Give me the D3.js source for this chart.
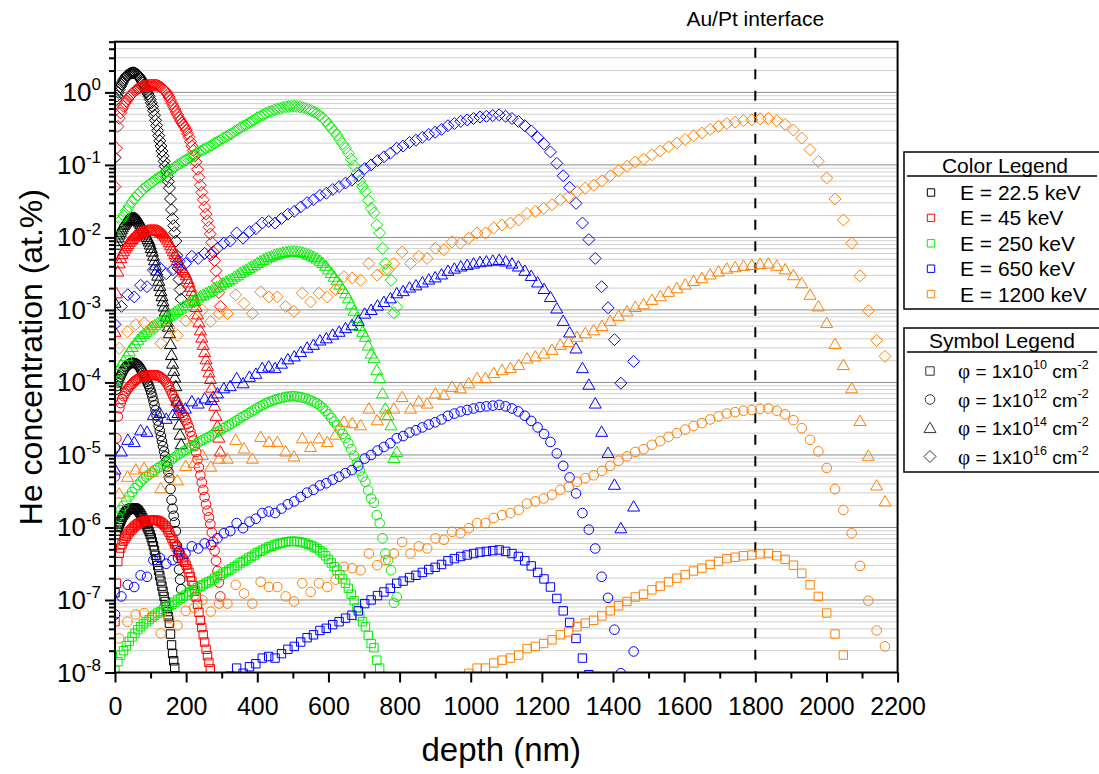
<!DOCTYPE html>
<html><head><meta charset="utf-8">
<script src="https://cdn.jsdelivr.net/npm/d3@7"></script>
<style>body{margin:0;background:#fff} text{font-family:Arial,"Liberation Sans",sans-serif;fill:#000}</style>
</head><body><svg id="c" width="1099" height="774"></svg>
<script>
// ---------- DATA ----------
const energies = ["22.5", "45", "250", "650", "1200"];
// He concentration (at.%) vs depth (nm) for a fluence of 1x10^16 cm^-2
const profile_22_5 = [[0,0.126],[3,0.794],[6,0.891],[9,1.00],[12,1.10],[15,1.20],[18,1.29],[21,1.38],[24,1.48],[27,1.55],[30,1.62],[33,1.70],[36,1.74],[39,1.78],[42,1.82],[45,1.84],[48,1.86],[51,1.86],[54,1.86],[57,1.84],[60,1.80],[63,1.76],[66,1.70],[69,1.62],[72,1.54],[75,1.45],[78,1.36],[81,1.27],[84,1.18],[87,1.10],[90,1.02],[93,0.95],[96,0.88],[99,0.80],[102,0.718],[105,0.640],[108,0.560],[111,0.485],[114,0.412],[117,0.350],[120,0.298],[123,0.253],[126,0.215],[129,0.182],[132,0.155],[135,0.132],[138,0.112],[141,0.0955],[144,0.0813],[147,0.0692],[150,0.0589],[153,0.0479],[156,0.0339],[159,0.0240],[162,0.0182],[165,0.0145],[168,0.0117],[171,0.00891],[174,0.00562],[177,0.00380],[180,0.00263],[183,0.00191],[186,0.00141]];
const profile_45 = [[0,0.0501],[4,0.170],[8,0.339],[12,0.440],[16,0.52],[20,0.589],[24,0.646],[28,0.708],[32,0.759],[36,0.813],[40,0.871],[44,0.912],[48,0.955],[52,1.00],[56,1.05],[60,1.08],[64,1.12],[68,1.15],[72,1.17],[76,1.20],[80,1.22],[84,1.23],[88,1.24],[92,1.245],[96,1.26],[100,1.26],[104,1.26],[108,1.26],[112,1.26],[116,1.26],[120,1.245],[124,1.22],[128,1.19],[132,1.15],[136,1.11],[140,1.06],[144,1.00],[148,0.933],[152,0.860],[156,0.780],[160,0.708],[164,0.646],[168,0.589],[172,0.537],[176,0.490],[180,0.447],[184,0.412],[188,0.380],[192,0.355],[196,0.331],[200,0.302],[204,0.269],[208,0.240],[212,0.209],[216,0.182],[220,0.158],[224,0.132],[228,0.110],[232,0.0871],[236,0.0676],[240,0.0525],[244,0.0417],[248,0.0331],[252,0.0263],[256,0.0209],[260,0.0170],[264,0.0138],[268,0.0112],[272,0.00851],[276,0.00631],[280,0.00479],[284,0.00347],[288,0.00251],[292,0.00174],[296,0.00112]];
const profile_250 = [[0,0.0107],[8,0.0141],[16,0.0174],[24,0.0200],[32,0.0234],[40,0.0269],[48,0.0309],[56,0.0347],[64,0.0389],[72,0.0427],[80,0.0468],[88,0.0501],[96,0.0537],[104,0.0575],[112,0.0617],[120,0.0661],[128,0.0692],[136,0.0741],[144,0.0794],[152,0.0832],[160,0.0871],[168,0.0933],[176,0.100],[184,0.105],[192,0.112],[200,0.117],[208,0.126],[216,0.132],[224,0.138],[232,0.148],[240,0.155],[248,0.162],[256,0.170],[264,0.178],[272,0.186],[280,0.200],[288,0.209],[296,0.219],[304,0.234],[312,0.245],[320,0.257],[328,0.269],[336,0.288],[344,0.302],[352,0.324],[360,0.339],[368,0.355],[376,0.380],[384,0.398],[392,0.417],[400,0.447],[408,0.468],[416,0.490],[424,0.513],[432,0.537],[440,0.550],[448,0.575],[456,0.589],[464,0.603],[472,0.617],[480,0.631],[488,0.638],[496,0.646],[504,0.646],[512,0.638],[520,0.631],[528,0.617],[536,0.603],[544,0.582],[552,0.562],[560,0.537],[568,0.513],[576,0.479],[584,0.447],[592,0.407],[600,0.363],[608,0.324],[616,0.288],[624,0.257],[632,0.224],[640,0.195],[648,0.170],[656,0.145],[664,0.120],[672,0.0977],[680,0.0776],[688,0.0603],[696,0.0501],[704,0.0427],[712,0.0324],[720,0.0251],[728,0.0219],[736,0.0148],[744,0.0115],[752,0.00708],[760,0.00437],[768,0.00355],[776,0.00257],[784,0.000912],[792,0.00110]];
const profile_650 = [[0,6.31e-4],[18,1.12e-3],[36,1.62e-3],[54,1.51e-3],[72,2.19e-3],[90,2.09e-3],[108,3.55e-3],[126,3.80e-3],[144,3.16e-3],[162,3.55e-3],[180,4.68e-3],[198,4.37e-3],[216,5.50e-3],[234,5.13e-3],[252,6.03e-3],[270,5.75e-3],[288,7.08e-3],[306,8.32e-3],[324,8.91e-3],[342,1.15e-2],[360,9.77e-3],[378,1.20e-2],[396,1.32e-2],[414,1.58e-2],[432,1.66e-2],[450,1.58e-2],[468,1.82e-2],[486,2.09e-2],[504,2.29e-2],[522,2.63e-2],[540,3.02e-2],[558,3.31e-2],[576,3.80e-2],[594,4.07e-2],[612,4.57e-2],[630,5.01e-2],[648,5.62e-2],[666,6.17e-2],[684,7.08e-2],[702,8.91e-2],[720,0.100],[738,0.115],[756,0.129],[774,0.145],[792,0.170],[810,0.182],[828,0.204],[846,0.219],[864,0.240],[882,0.263],[900,0.282],[918,0.309],[936,0.347],[954,0.372],[972,0.398],[990,0.417],[1008,0.437],[1026,0.457],[1044,0.468],[1062,0.479],[1080,0.490],[1098,0.468],[1116,0.437],[1134,0.398],[1152,0.347],[1170,0.295],[1188,0.240],[1206,0.195],[1224,0.151],[1242,0.105],[1260,0.0708],[1278,0.0490],[1296,0.0295],[1314,0.0158],[1332,0.00933],[1350,0.00513],[1368,0.00209],[1386,0.00107],[1404,3.89e-4],[1422,9.77e-5],[1458,1.95e-4]];
const profile_1200 = [[11.7,2.95e-4],[35.1,5.01e-4],[58.5,6.31e-4],[81.9,6.61e-4],[105.3,5.89e-4],[128.7,3.47e-4],[152.1,5.62e-4],[175.5,4.47e-4],[198.9,7.08e-4],[222.3,7.76e-4],[245.7,1.00e-3],[269.1,6.92e-4],[292.5,8.91e-4],[315.9,8.91e-4],[339.3,1.62e-3],[362.7,1.23e-3],[386.1,8.91e-4],[409.5,1.78e-3],[432.9,1.51e-3],[456.3,1.51e-3],[479.7,1.12e-3],[503.1,9.55e-4],[526.5,1.70e-3],[549.9,1.29e-3],[573.3,1.70e-3],[596.7,1.51e-3],[620.1,1.91e-3],[643.5,2.88e-3],[666.9,2.75e-3],[690.3,2.57e-3],[713.7,4.37e-3],[737.1,3.02e-3],[760.5,3.55e-3],[783.9,4.37e-3],[807.3,6.31e-3],[830.7,4.37e-3],[854.1,5.50e-3],[877.5,5.13e-3],[900.9,7.08e-3],[924.3,6.76e-3],[947.7,8.71e-3],[971.1,8.32e-3],[994.5,9.77e-3],[1017.9,1.15e-2],[1041.3,1.15e-2],[1064.7,1.35e-2],[1088.1,1.48e-2],[1111.5,1.58e-2],[1134.9,1.74e-2],[1158.3,2.14e-2],[1181.7,2.29e-2],[1205.1,2.51e-2],[1228.5,2.82e-2],[1251.9,3.31e-2],[1275.3,3.63e-2],[1298.7,4.27e-2],[1322.1,4.79e-2],[1345.5,5.25e-2],[1368.9,6.03e-2],[1392.3,7.08e-2],[1415.7,8.32e-2],[1439.1,9.55e-2],[1462.5,0.110],[1485.9,0.120],[1509.3,0.138],[1532.7,0.155],[1556.1,0.178],[1579.5,0.200],[1602.9,0.224],[1626.3,0.251],[1649.7,0.275],[1673.1,0.309],[1696.5,0.339],[1719.9,0.372],[1743.3,0.389],[1766.7,0.407],[1790.1,0.417],[1813.5,0.432],[1836.9,0.437],[1860.3,0.407],[1883.7,0.363],[1907.1,0.302],[1930.5,0.234],[1953.9,0.162],[1977.3,0.112],[2000.7,0.0661],[2024.1,0.0339],[2047.5,0.0174],[2070.9,0.00832],[2094.3,0.00295],[2117.7,9.77e-4],[2141.1,3.80e-4],[2164.5,2.29e-4]];
const profiles = [profile_22_5, profile_45, profile_250, profile_650, profile_1200];
const fluences = [1e10, 1e12, 1e14, 1e16];
const fluenceExp = ["10", "12", "14", "16"];
const referenceFluence = 1e16;
const xTicks = [0,200,400,600,800,1000,1200,1400,1600,1800,2000,2200];
const yTickExp = [0,-1,-2,-3,-4,-5,-6,-7,-8];
const interfaceDepth = 1800;

// ---------- STYLE ----------
const colors = ["#000000", "#ff0000", "#00ee00", "#0000ff", "#ff8000"];
const shapeNames = ["square", "circle", "triangle", "diamond"];
const L = 115, R = 897.6, T = 41.7, B = 672.5;

const svg = d3.select("#c");
const x = d3.scaleLinear().domain([0, 2200]).range([L, R]);
const y = d3.scaleLog().domain([1e-8, 5]).range([B, T]);

function shapePath(s) {
  if (s === "square") return "M-4.2,-4.2H4.2V4.2H-4.2Z";
  if (s === "circle") return "M4.8,0A4.8,4.8 0 1,1 -4.8,0A4.8,4.8 0 1,1 4.8,0Z";
  if (s === "triangle") return "M0,-5.8L6,4.6H-6Z";
  return "M0,-6L6,0L0,6L-6,0Z";
}

// grid lines
const majors = yTickExp.map(e => Math.pow(10, e));
const minors = [];
for (let e = -8; e <= 0; e++) for (let m = 2; m <= 9; m++) { const v = m * Math.pow(10, e); if (v <= 5) minors.push(v); }
svg.append("g").selectAll("line").data(minors).join("line")
  .attr("x1", L).attr("x2", R).attr("y1", d => y(d)).attr("y2", d => y(d))
  .attr("stroke", "#cfcfcf").attr("stroke-width", 1);
svg.append("g").selectAll("line").data(majors).join("line")
  .attr("x1", L).attr("x2", R).attr("y1", d => y(d)).attr("y2", d => y(d))
  .attr("stroke", "#8c8c8c").attr("stroke-width", 1);

svg.append("clipPath").attr("id", "plotclip").append("rect")
  .attr("x", L).attr("y", T).attr("width", R - L).attr("height", B - T);

// interface line
svg.append("line").attr("x1", x(interfaceDepth)).attr("x2", x(interfaceDepth))
  .attr("y1", T + 6).attr("y2", B).attr("stroke", "#000").attr("stroke-width", 2)
  .attr("stroke-dasharray", "10,11.5");

// data markers
const gData = svg.append("g").attr("clip-path", "url(#plotclip)");
profiles.forEach((prof, ei) => {
  fluences.forEach((f, fi) => {
    const pts = prof.map(([d, c]) => [d, c * f / referenceFluence]).filter(p => p[1] >= 6e-9);
    gData.append("g").selectAll("path").data(pts).join("path")
      .attr("transform", p => `translate(${x(p[0])},${y(p[1])})`)
      .attr("d", shapePath(shapeNames[fi]))
      .attr("fill", "none").attr("stroke", colors[ei]).attr("stroke-width", 1);
  });
});

// frame
svg.append("rect").attr("x", L).attr("y", T).attr("width", R - L).attr("height", B - T)
  .attr("fill", "none").attr("stroke", "#000").attr("stroke-width", 2);

// y axis
svg.append("g").attr("transform", `translate(${L},0)`)
  .call(d3.axisLeft(y).tickValues(majors).tickSize(10).tickFormat(""));
svg.append("g").attr("transform", `translate(${L},0)`)
  .call(d3.axisLeft(y).tickValues(minors).tickSize(6).tickFormat(""));
svg.selectAll(".domain").remove();

const ylab = svg.append("g");
yTickExp.forEach(e => {
  const t = ylab.append("text").attr("x", 101).attr("y", y(Math.pow(10, e)) + 9)
    .attr("text-anchor", "end").attr("font-size", 26);
  t.append("tspan").text("10");
  t.append("tspan").attr("dy", -11).attr("font-size", 17).text(String(e));
});

// x axis
const gx = svg.append("g").attr("transform", `translate(0,${B})`)
  .call(d3.axisBottom(x).tickValues(xTicks).tickSize(10).tickFormat(d3.format("d")));
const xMinor = xTicks.slice(0, -1).map(v => v + 100);
svg.append("g").attr("transform", `translate(0,${B})`)
  .call(d3.axisBottom(x).tickValues(xMinor).tickSize(6).tickFormat(""));
svg.selectAll(".domain").remove();
svg.selectAll(".tick line").attr("stroke", "#000").attr("stroke-width", 2);
gx.selectAll(".tick text").attr("font-size", 25).attr("font-family", "Arial, 'Liberation Sans', sans-serif")
  .attr("fill", "#000").attr("dy", 0).attr("y", 42);

// axis titles
svg.append("text").attr("x", (L + R) / 2 - 5).attr("y", 761).attr("text-anchor", "middle")
  .attr("font-size", 33).text("depth (nm)");
svg.append("text").attr("transform", `translate(42,${(T + B) / 2}) rotate(-90)`)
  .attr("text-anchor", "middle").attr("font-size", 32).text("He concentration (at.%)");

svg.append("text").attr("x", x(interfaceDepth)).attr("y", 26).attr("text-anchor", "middle")
  .attr("font-size", 21).text("Au/Pt interface");

// ---------- legends ----------
const lgX = 904;
svg.append("rect").attr("x", lgX).attr("y", 152).attr("width", 220).attr("height", 157)
  .attr("fill", "#fff").attr("stroke", "#000").attr("stroke-width", 1.5);
svg.append("text").attr("x", 1005).attr("y", 173).attr("text-anchor", "middle").attr("font-size", 21).text("Color Legend");
svg.append("line").attr("x1", 907).attr("x2", 1097).attr("y1", 176).attr("y2", 176).attr("stroke", "#000").attr("stroke-width", 1.5);
energies.forEach((e, i) => {
  const cy = 192.5 + i * 25.4;
  svg.append("path").attr("transform", `translate(931,${cy})`).attr("d", "M-3.7,-3.7H3.7V3.7H-3.7Z")
    .attr("fill", "none").attr("stroke", colors[i]).attr("stroke-width", 1);
  svg.append("text").attr("x", 960).attr("y", cy + 7.5).attr("font-size", 21).text(`E = ${e} keV`);
});
svg.append("rect").attr("x", lgX).attr("y", 328).attr("width", 220).attr("height", 144)
  .attr("fill", "#fff").attr("stroke", "#000").attr("stroke-width", 1.5);
svg.append("text").attr("x", 1002).attr("y", 348).attr("text-anchor", "middle").attr("font-size", 21).text("Symbol Legend");
svg.append("line").attr("x1", 907).attr("x2", 1097).attr("y1", 352).attr("y2", 352).attr("stroke", "#000").attr("stroke-width", 1.5);
fluenceExp.forEach((fe, i) => {
  const cy = 371 + i * 28.5;
  svg.append("path").attr("transform", `translate(930,${cy})`).attr("d", shapePath(shapeNames[i]))
    .attr("fill", "none").attr("stroke", "#333").attr("stroke-width", 1);
  const t = svg.append("text").attr("x", 958).attr("y", cy + 7).attr("font-size", 19);
  t.append("tspan").attr("font-family", "'Liberation Serif','DejaVu Serif',serif").attr("font-size", 21).text("φ");
  t.append("tspan").text(" = 1x10");
  t.append("tspan").attr("dy", -9).attr("font-size", 12.5).text(fe);
  t.append("tspan").attr("dy", 9).text(" cm");
  t.append("tspan").attr("dy", -9).attr("font-size", 12.5).text("-2");
});
</script></body></html>
